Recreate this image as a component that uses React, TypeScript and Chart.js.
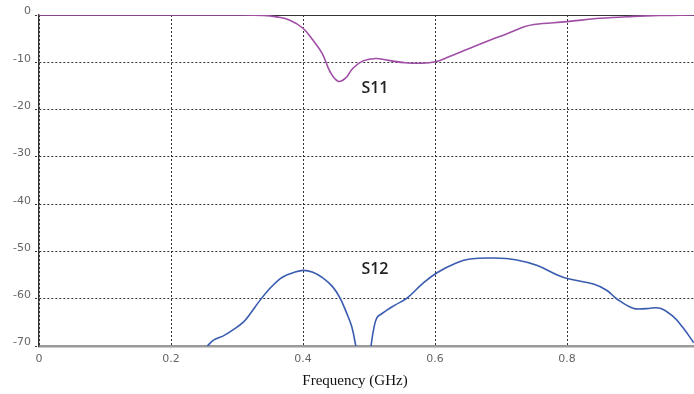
import React, { useEffect, useRef } from "react";
import { Chart, registerables } from "chart.js";

Chart.register(...registerables);

// ---- data ----
const xTicks = [0, 0.2, 0.4, 0.6, 0.8];
const yTicks = [0, -10, -20, -30, -40, -50, -60, -70];
const xTitle = "Frequency (GHz)";

const s11X = [0, 0.1, 0.2, 0.3, 0.34, 0.36, 0.38, 0.4, 0.415, 0.429, 0.441, 0.453, 0.464, 0.476, 0.491, 0.51, 0.53, 0.555, 0.58, 0.6, 0.62, 0.65, 0.68, 0.71, 0.735, 0.75, 0.8, 0.85, 0.9, 0.94, 0.992];
const s11Y = [0, 0, 0, 0, -0.1, -0.4, -1.1, -2.8, -5.3, -8.1, -12.0, -14.0, -13.4, -11.2, -9.7, -9.2, -9.6, -10.1, -10.2, -9.9, -8.9, -7.2, -5.5, -3.9, -2.5, -2.0, -1.4, -0.7, -0.3, -0.1, 0];

const s12X = [0.255, 0.265, 0.28, 0.295, 0.31, 0.32, 0.335, 0.35, 0.365, 0.375, 0.385, 0.4, 0.415, 0.43, 0.445, 0.456, 0.466, 0.474, 0.48, 0.49, 0.503, 0.507, 0.512, 0.52, 0.527, 0.54, 0.558, 0.582, 0.603, 0.633, 0.653, 0.688, 0.724, 0.755, 0.789, 0.809, 0.84, 0.86, 0.875, 0.9, 0.92, 0.941, 0.961, 0.975, 0.992];
const s12Y = [-70, -68.7, -67.8, -66.5, -64.9, -63.2, -60.3, -57.8, -55.8, -55.0, -54.5, -54.0, -54.4, -55.6, -57.5, -59.8, -63, -66, -70, null, -70, -66.5, -64, -63.1, -62.4, -61.3, -59.8, -56.7, -54.5, -52.4, -51.6, -51.4, -51.8, -53.0, -55.2, -56.0, -56.9, -58.2, -60.0, -62, -62.1, -62, -63.8, -66, -69.3];

const seriesNames = ["S11", "S12"];
const seriesLabelX = [0.509, 0.509];
const seriesLabelY = [-15.6, -53.9];

const X_MIN = 0;
const X_MAX = 0.9924;
const Y_MIN = -70;
const Y_MAX = 0;

const toPoints = (xs: number[], ys: (number | null)[]) => xs.map((x, i) => ({ x, y: ys[i] }));

const overlayPlugin = {
  id: "overlay",
  beforeDatasetsDraw(chart: any) {
    const { ctx, chartArea } = chart;
    ctx.save();
    ctx.strokeStyle = "#333";
    ctx.lineWidth = 1.2;
    ctx.beginPath();
    ctx.moveTo(chartArea.left, chartArea.top + 0.5);
    ctx.lineTo(chartArea.right, chartArea.top + 0.5);
    ctx.stroke();
    ctx.restore();
  },
  afterDraw(chart: any) {
    const { ctx } = chart;
    const xs = chart.scales.x;
    const ys = chart.scales.y;
    ctx.save();
    ctx.fillStyle = "#222";
    ctx.textAlign = "center";
    ctx.textBaseline = "middle";
    ctx.font = '600 16px "Open Sans"';
    seriesNames.forEach((n, i) => {
      ctx.fillText(n, xs.getPixelForValue(seriesLabelX[i]), ys.getPixelForValue(seriesLabelY[i]));
    });
    ctx.font = '15px "Liberation Serif"';
    ctx.fillStyle = "#111";
    ctx.fillText(xTitle, 355, 381);
    ctx.restore();
  },
};

export default function App() {
  const ref = useRef<HTMLCanvasElement | null>(null);
  useEffect(() => {
    if (!ref.current) return;
    const chart = new Chart(ref.current, {
      type: "line",
      data: {
        datasets: [
          {
            label: seriesNames[0],
            data: toPoints(s11X, s11Y),
            borderColor: "#a04ea6",
            borderWidth: 1.6,
            pointRadius: 0,
            tension: 0.4,
            fill: false,
          },
          {
            label: seriesNames[1],
            data: toPoints(s12X, s12Y),
            borderColor: "#3a5cb0",
            borderWidth: 1.6,
            pointRadius: 0,
            tension: 0.4,
            spanGaps: false,
            fill: false,
          },
        ],
      },
      options: {
        animation: false,
        responsive: false,
        layout: { padding: { top: 15, right: 0, left: 0, bottom: 0 } },
        plugins: { legend: { display: false }, tooltip: { enabled: false } },
        scales: {
          x: {
            type: "linear",
            min: X_MIN,
            max: X_MAX,
            afterBuildTicks: (s: any) => {
              s.ticks = xTicks.map((v) => ({ value: v }));
            },
            afterFit: (s: any) => {
              s.height = 48;
            },
            grid: { color: "#333", lineWidth: 1, drawTicks: false },
            border: { display: true, color: "#9a9a9a", width: 2.5, dash: [2, 2] },
            ticks: {
              color: "#666",
              font: { family: "DejaVu Sans", size: 11 },
              padding: 7,
              maxRotation: 0,
              callback: (v: any) => String(v),
            },
          },
          y: {
            type: "linear",
            min: Y_MIN,
            max: Y_MAX,
            afterBuildTicks: (s: any) => {
              s.ticks = yTicks.map((v) => ({ value: v }));
            },
            afterFit: (s: any) => {
              s.width = 39;
            },
            grid: { color: "#333", lineWidth: 1, drawTicks: true, tickLength: 4, tickColor: "#333", tickBorderDash: [2, 2] },
            border: { display: true, color: "#333", width: 1.3, dash: [2, 2] },
            ticks: {
              color: "#666",
              font: { family: "DejaVu Sans", size: 11 },
              padding: 4,
              labelOffset: -3.5,
              callback: (v: any) => String(v),
            },
          },
        },
      },
      plugins: [overlayPlugin],
    } as any);
    return () => chart.destroy();
  }, []);
  return (
    <div style={{ position: "absolute", left: 0, top: 0, width: 694, height: 394, background: "#fff" }}>
      <canvas ref={ref} width={694} height={394} style={{ width: 694, height: 394, display: "block" }} />
    </div>
  );
}
